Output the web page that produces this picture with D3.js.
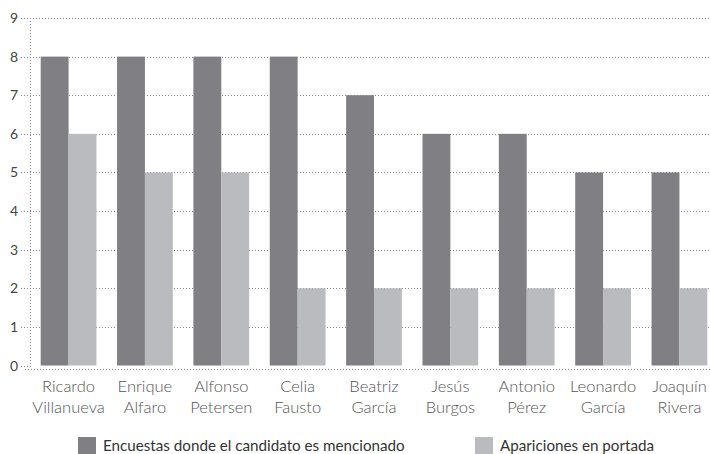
<html>
<head>
  <meta charset="utf-8">
  <script src="https://d3js.org/d3.v7.min.js"></script>
  <style>
    body { margin: 0; background: #fff; }
    text { font-family: Lato, "Open Sans", sans-serif; }
    .grid line { stroke: #888; stroke-width: 1px; stroke-dasharray: 1,2; }
  </style>
</head>
<body>
  <svg id="chart" width="710" height="454"></svg>
  <script>
    const candidatos = [
      ["Ricardo", "Villanueva"], ["Enrique", "Alfaro"], ["Alfonso", "Petersen"],
      ["Celia", "Fausto"], ["Beatriz", "García"], ["Jesús", "Burgos"],
      ["Antonio", "Pérez"], ["Leonardo", "García"], ["Joaquín", "Rivera"]
    ];
    const encuestas = [8, 8, 8, 8, 7, 6, 6, 5, 5];
    const portada = [6, 5, 5, 2, 2, 2, 2, 2, 2];
    const series = ["Encuestas donde el candidato es mencionado", "Apariciones en portada"];
    const yTicks = [0, 1, 2, 3, 4, 5, 6, 7, 8, 9];

    let svg = d3.select('svg#chart');
    const colors = ["#7f7f84", "#babbbf"];

    let x = d3.scaleBand().domain(d3.range(candidatos.length))
      .range([30, 718]).paddingInner(0.27).paddingOuter(0.14);
    let xInner = d3.scaleBand().domain([0, 1]).range([0, x.bandwidth()]);
    let y = d3.scaleLinear().domain([0, 9]).range([365.5, 18]);

    // gridlines
    let grid = svg.append('g').attr('class', 'grid');
    grid.selectAll('line.h').data(yTicks.filter(d => d > 0)).join('line')
      .attr('class', 'h')
      .attr('x1', 21).attr('x2', 710)
      .attr('y1', d => Math.round(y(d)) + 0.5).attr('y2', d => Math.round(y(d)) + 0.5);
    grid.append('line').attr('x1', 21).attr('x2', 30)
      .attr('y1', Math.round(y(0)) + 0.5).attr('y2', Math.round(y(0)) + 0.5);
    grid.append('line').attr('x1', 30.5).attr('x2', 30.5)
      .attr('y1', y(9)).attr('y2', 369);
    grid.append('line').attr('x1', 25).attr('x2', 710)
      .attr('y1', 369.5).attr('y2', 369.5);

    // y labels
    svg.append('g').selectAll('text').data(yTicks).join('text')
      .attr('x', 14).attr('y', d => y(d) + 5)
      .attr('text-anchor', 'middle')
      .attr('font-size', 14).attr('fill', '#444')
      .text(d => d);

    // bars
    let groups = svg.append('g').selectAll('g').data(candidatos).join('g')
      .attr('transform', (d, i) => `translate(${x(i)},0)`);
    groups.append('rect')
      .attr('x', xInner(0)).attr('width', xInner.bandwidth())
      .attr('y', (d, i) => y(encuestas[i])).attr('height', (d, i) => y(0) - y(encuestas[i]))
      .attr('fill', colors[0]);
    groups.append('rect')
      .attr('x', xInner(1)).attr('width', xInner.bandwidth())
      .attr('y', (d, i) => y(portada[i])).attr('height', (d, i) => y(0) - y(portada[i]))
      .attr('fill', colors[1]);

    // category labels
    let labels = groups.append('text')
      .attr('text-anchor', 'middle')
      .attr('font-size', 16.5).attr('font-weight', 300).attr('fill', '#555');
    labels.append('tspan').attr('x', x.bandwidth() / 2).attr('y', 392).text(d => d[0]);
    labels.append('tspan').attr('x', x.bandwidth() / 2).attr('y', 413).text(d => d[1]);

    // legend
    const legendX = [78, 475];
    let legend = svg.append('g').selectAll('g').data(series).join('g')
      .attr('transform', (d, i) => `translate(${legendX[i]},437)`);
    legend.append('rect').attr('width', 18).attr('height', 17)
      .attr('fill', (d, i) => colors[i]);
    legend.append('text').attr('x', 25).attr('y', 14)
      .attr('font-size', 15.2).attr('fill', '#333')
      .text(d => d);
  </script>
</body>
</html>
